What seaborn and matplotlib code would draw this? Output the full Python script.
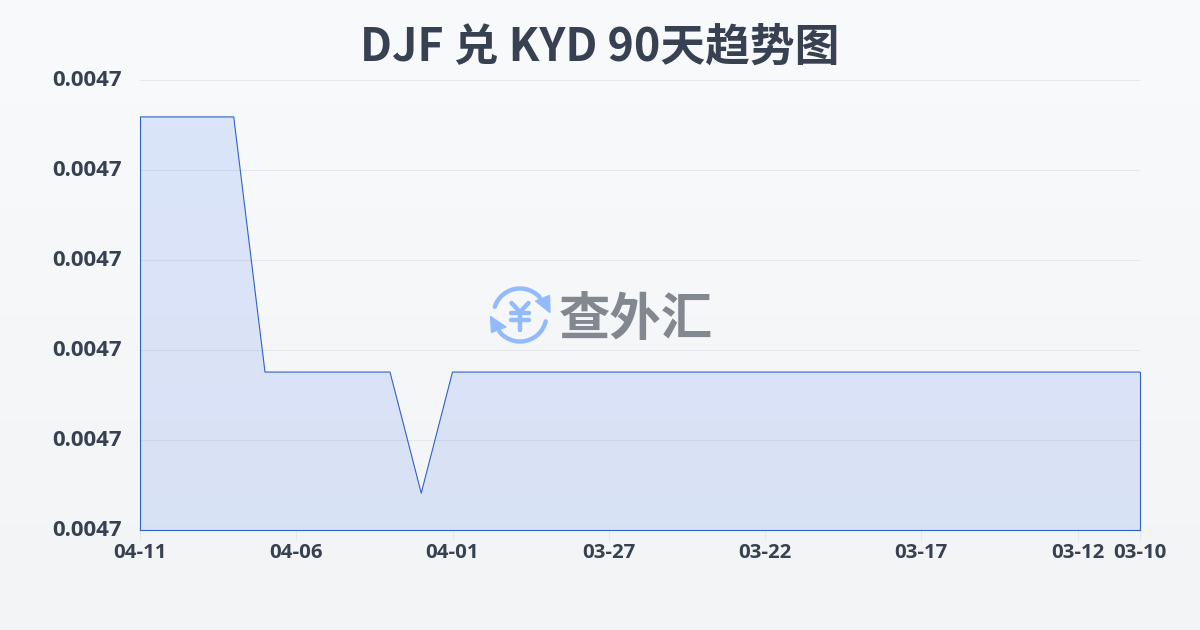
import numpy as np
import matplotlib
matplotlib.use("Agg")
import matplotlib.pyplot as plt
import matplotlib.transforms as mtrans
import seaborn as sns

dates = ["04-11", "04-10", "04-09", "04-08", "04-07", "04-06", "04-05", "04-04", "04-03", "04-02", "04-01",
         "03-31", "03-30", "03-29", "03-28", "03-27", "03-26", "03-25", "03-24", "03-23", "03-22", "03-21",
         "03-20", "03-19", "03-18", "03-17", "03-16", "03-15", "03-14", "03-13", "03-12", "03-11", "03-10"]
rates = [0.00470918, 0.00470918, 0.00470918, 0.00470918, 0.00470351, 0.00470351, 0.00470351, 0.00470351,
         0.00470351, 0.00470082, 0.00470351, 0.00470351, 0.00470351, 0.00470351, 0.00470351, 0.00470351,
         0.00470351, 0.00470351, 0.00470351, 0.00470351, 0.00470351, 0.00470351, 0.00470351, 0.00470351,
         0.00470351, 0.00470351, 0.00470351, 0.00470351, 0.00470351, 0.00470351, 0.00470351, 0.00470351,
         0.00470351]
x_ticks = ["04-11", "04-06", "04-01", "03-27", "03-22", "03-17", "03-12", "03-10"]
y_ticks = [0.004700, 0.004702, 0.004704, 0.004706, 0.004708, 0.004710]

title = "DJF 兑 KYD 90天趋势图"
watermark = "查外汇"

TEXT = "#374151"
LINE = "#2f62c9"
GRID = "#e5e7eb"
ICON = "#93bbfb"

sns.set_theme(style="white")
plt.rcParams["font.family"] = ["Open Sans", "Noto Sans CJK SC", "DejaVu Sans"]

fig = plt.figure(figsize=(12, 6.3), dpi=100)

# background gradient
bg = fig.add_axes([0, 0, 1, 1], zorder=0)
bg.imshow(np.linspace(0, 1, 256).reshape(-1, 1), aspect="auto", extent=[0, 1, 0, 1],
          cmap=matplotlib.colors.LinearSegmentedColormap.from_list("bg", ["#f8fafc", "#f3f4f6"]))
bg.axis("off")

ax = fig.add_axes([140 / 1200, 100 / 630, 1000 / 1200, 450 / 630], zorder=1)
ax.patch.set_alpha(0)

sns.lineplot(x=dates, y=rates, sort=False, color=LINE, linewidth=0.8, ax=ax, zorder=3)
ax.fill_between(dates, rates, y_ticks[0], facecolor=(37 / 255, 99 / 255, 235 / 255, 0.13),
                edgecolor="none", zorder=2)

ax.set_xlim(0, len(dates) - 1)
ax.set_ylim(y_ticks[0], y_ticks[-1])
ax.set_xticks(x_ticks)
ax.set_yticks(y_ticks)
ax.set_yticklabels([f"{v:.4f}" for v in y_ticks])
ax.set(xlabel="", ylabel="")
ax.grid(axis="y", color=GRID, linewidth=0.8)
ax.set_axisbelow(True)
sns.despine(ax=ax, top=True, right=False, left=False, bottom=False)

# the area outline closes on the sides and along the bottom
for side, top in [("left", rates[0]), ("right", rates[-1])]:
    ax.spines[side].set_bounds(y_ticks[0], top)
for side in ["left", "right", "bottom"]:
    ax.spines[side].set_color(LINE)
    ax.spines[side].set_linewidth(0.8)

ax.tick_params(axis="x", length=7.5, width=0.8, color=GRID, pad=2, labelsize=14.7, labelcolor=TEXT, bottom=True)
ax.tick_params(axis="y", length=0, pad=13, labelsize=16, labelcolor=TEXT)
for lab in ax.get_xticklabels() + ax.get_yticklabels():
    lab.set_fontweight("bold")
# y labels sit a little above their grid lines
for lab in ax.get_yticklabels():
    lab.set_transform(lab.get_transform() + mtrans.ScaledTranslation(0, 2 / 100, fig.dpi_scale_trans))

fig.text(0.5, 1 - 47.5 / 630, title, ha="center", va="center", fontsize=32.2, fontweight="bold", color=TEXT,
         family=["Noto Sans CJK SC", "DejaVu Sans"])

# watermark, in pixel coordinates
wm = fig.add_axes([0, 0, 1, 1], zorder=5)
wm.set_xlim(0, 1200)
wm.set_ylim(630, 0)
wm.axis("off")
wm.text(636, 319, watermark, ha="center", va="center", fontsize=37, fontweight="bold", color="#83878f",
        family=["Noto Sans CJK SC", "DejaVu Sans"])

cx, cy, r = 520, 315, 26.5
for a, b in [(162, 42), (-14, -141)]:
    t = np.radians(np.linspace(a, b, 40))
    wm.plot(cx + r * np.cos(t), cy - r * np.sin(t), color=ICON, linewidth=3.2, solid_capstyle="round")
wm.fill([550, 549.5, 535.5], [312.5, 295.5, 301], color=ICON)
wm.fill([490.5, 491.5, 506], [316.5, 332.5, 327], color=ICON)
for xs, ys in [([511.5, 520, 528.5], [303, 312, 303]), ([511, 529], [313, 313]),
               ([511, 529], [320, 320]), ([520, 520], [312, 330])]:
    wm.plot(xs, ys, color=ICON, linewidth=3.2, solid_capstyle="round", solid_joinstyle="round")

fig.savefig("out.png", dpi=100)
